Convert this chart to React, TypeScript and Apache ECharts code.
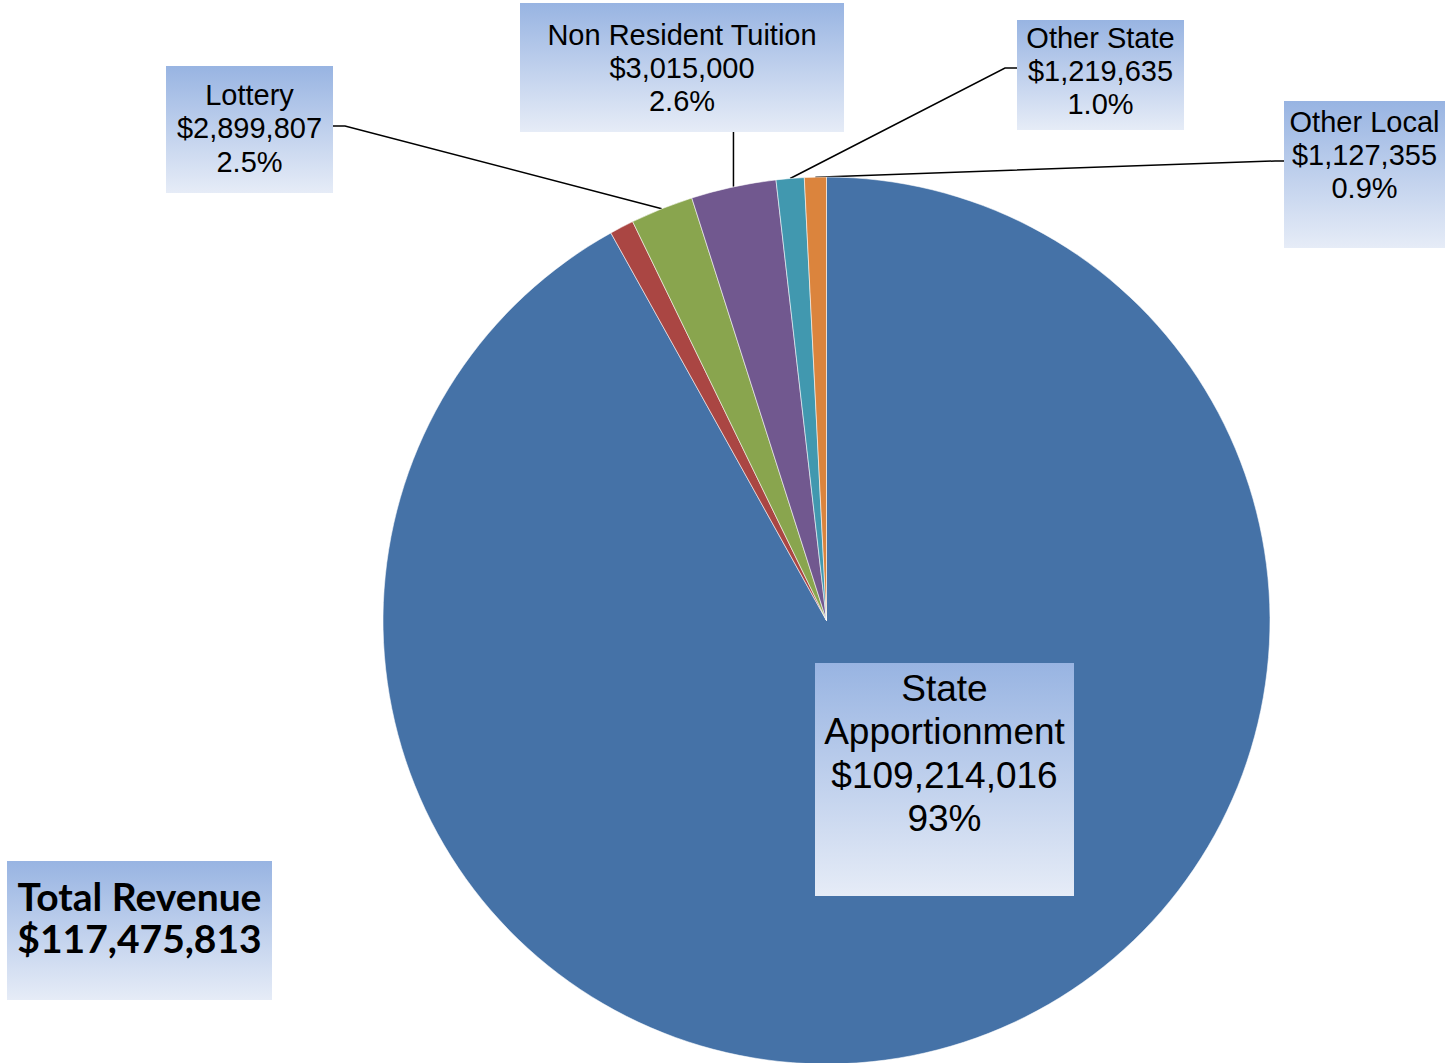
import React, { useEffect, useRef } from "react";
import * as echarts from "echarts";

// ---- data ----
const categories = ["State Apportionment", "Other", "Lottery", "Non Resident Tuition", "Other State", "Other Local"];
// slice sizes as drawn
const sliceValues = [107983000, 1034400, 2688900, 3635200, 1197600, 936500];
// label texts as printed on the chart
const labelNames = ["State\nApportionment", "", "Lottery", "Non Resident Tuition", "Other State", "Other Local"];
const labelAmounts = ["$109,214,016", "", "$2,899,807", "$3,015,000", "$1,219,635", "$1,127,355"];
const labelPercents = ["93%", "", "2.5%", "2.6%", "1.0%", "0.9%"];
const totalLines = ["Total Revenue", "$117,475,813"];

const colors = ["#4572A7", "#AA4643", "#89A54E", "#71588F", "#4198AF", "#DB843D"];

// ---- layout of label boxes ----
type Box = { x: number; y: number; w: number; h: number; pad: number; fs: number; lh: number } | null;
const boxes: Box[] = [
  { x: 815, y: 663, w: 259, h: 233, pad: 4, fs: 37, lh: 43.3 },
  null,
  { x: 166, y: 66, w: 167, h: 127, pad: 12, fs: 29, lh: 33.5 },
  { x: 520, y: 3, w: 324, h: 129, pad: 15, fs: 29, lh: 33.3 },
  { x: 1017, y: 20, w: 167, h: 110, pad: 1, fs: 29, lh: 33.3 },
  { x: 1284, y: 101, w: 161, h: 147, pad: 4, fs: 29, lh: 33.3 },
];

const gradient = () =>
  new echarts.graphic.LinearGradient(0, 0, 0, 1, [
    { offset: 0, color: "#98B4E2" },
    { offset: 1, color: "#E6ECF7" },
  ]);

export default function App() {
  const ref = useRef<HTMLDivElement>(null);
  useEffect(() => {
    if (!ref.current) return;
    const chart = echarts.init(ref.current, null, { renderer: "svg" });

    const data = categories.map((name, i) => {
      const b = boxes[i];
      const item: any = {
        name,
        value: sliceValues[i],
        itemStyle: { color: colors[i] },
      };
      if (!b) {
        item.label = { show: false };
        item.labelLine = { show: false };
      } else {
        item.label = {
          show: true,
          formatter: [labelNames[i], labelAmounts[i], labelPercents[i]].join("\n"),
          fontFamily: "Liberation Sans, Arial, sans-serif",
          fontSize: b.fs,
          lineHeight: b.lh,
          color: "#000",
          width: b.w,
          height: b.h - b.pad,
          padding: [b.pad, 0, 0, 0],
          overflow: "none",
          align: "center",
          backgroundColor: gradient(),
        };
        item.labelLine = { show: i !== 0, lineStyle: { color: "#000", width: 1.5 } };
      }
      return item;
    });

    chart.setOption({
      animation: false,
      backgroundColor: "#fff",
      graphic: [
        {
          type: "rect",
          shape: { x: 7, y: 861, width: 265, height: 139 },
          style: { fill: gradient() },
          silent: true,
        },
        {
          type: "text",
          x: 139.5,
          y: 875,
          style: {
            text: totalLines.join("\n"),
            font: "bold 39px Lato, 'Open Sans', sans-serif",
            fontSize: 39,
            fontWeight: "bold",
            fontFamily: "Lato",
            lineHeight: 42,
            align: "center",
            verticalAlign: "top",
            fill: "#000",
          },
          silent: true,
        },
      ],
      series: [
        {
          type: "pie",
          center: [826.5, 620.5],
          radius: 443.5,
          startAngle: 90,
          clockwise: true,
          avoidLabelOverlap: false,
          silent: true,
          emphasis: { disabled: true },
          itemStyle: { borderColor: "rgba(255,255,255,0.55)", borderWidth: 1 },
          label: { position: "outside" },
          labelLine: { show: true, length: 10, length2: 10 },
          labelLayout: (params: any) => {
            const i = params.dataIndex;
            const b = boxes[i];
            if (!b) return {};
            const res: any = {
              x: b.x + b.w / 2,
              y: b.y,
              align: "center",
              verticalAlign: "top",
            };
            const pts = params.labelLinePoints;
            const a = pts && pts[0] ? [pts[0][0], pts[0][1]] : null;
            if (a) {
              if (i === 2) {
                const yy = b.y + 60;
                res.labelLinePoints = [a, [b.x + b.w + 12, yy], [b.x + b.w, yy]];
              } else if (i === 3) {
                res.labelLinePoints = [a, [a[0], b.y + b.h], [a[0], b.y + b.h]];
              } else if (i === 4) {
                const yy = b.y + 48;
                res.labelLinePoints = [a, [b.x - 12, yy], [b.x, yy]];
              } else if (i === 5) {
                const yy = b.y + 60;
                res.labelLinePoints = [a, [b.x - 9, yy], [b.x, yy]];
              }
            }
            return res;
          },
          data,
        },
      ],
    });
    return () => chart.dispose();
  }, []);

  return (
    <div
      ref={ref}
      style={{ position: "fixed", left: 0, top: 0, width: 1445, height: 1063, background: "#fff" }}
    />
  );
}
